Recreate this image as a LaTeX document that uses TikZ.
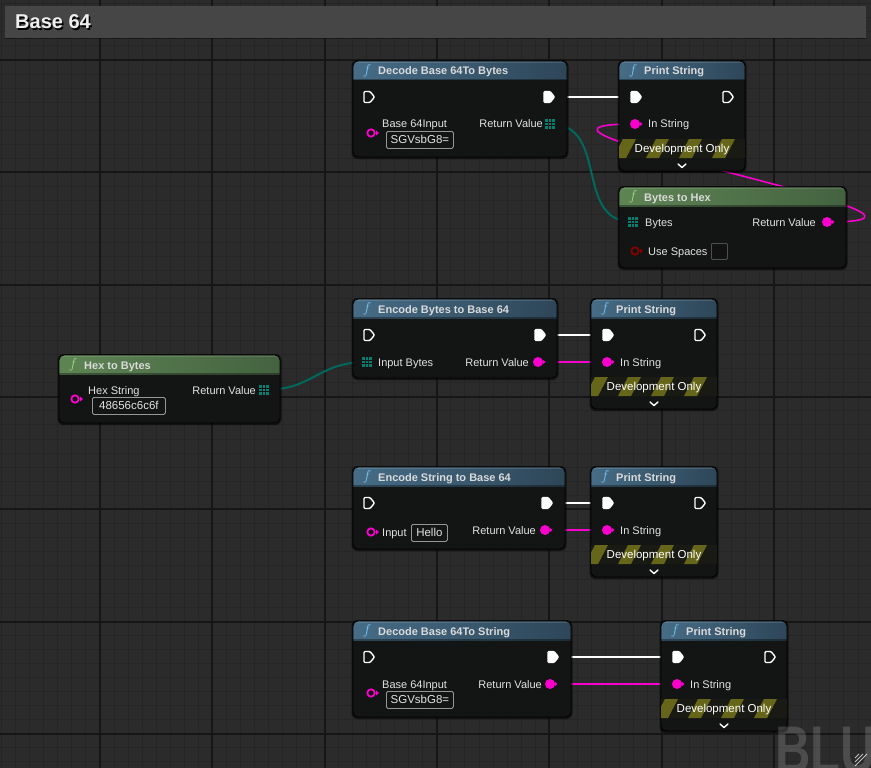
\documentclass[tikz,border=0pt]{standalone}
\usepackage{fontspec}
\setmainfont{Liberation Sans}
\usetikzlibrary{positioning}
\pgfdeclarelayer{grid}
\pgfdeclarelayer{wires}
\pgfsetlayers{grid,wires,main}

\definecolor{canvas}{RGB}{43,43,43}
\definecolor{minorline}{RGB}{37,37,37}
\definecolor{majorline}{RGB}{22,22,22}
\definecolor{titlebar}{RGB}{70,70,70}
\definecolor{bodycol}{RGB}{19,21,20}
\definecolor{headtext}{RGB}{218,218,218}
\definecolor{labeltext}{RGB}{226,226,226}
\definecolor{boxedge}{RGB}{150,150,150}
\definecolor{strpink}{RGB}{250,0,205}
\definecolor{byteteal}{RGB}{0,128,112}
\definecolor{wireteal}{RGB}{0,105,92}
\definecolor{boolred}{RGB}{135,0,0}
\definecolor{olive}{RGB}{102,102,26}
\definecolor{olivedark}{RGB}{26,26,20}

\tikzset{
  minorgrid/.style={draw=minorline,line width=1pt},
  majorgrid/.style={draw=majorline,line width=2pt},
  nodeshadow/.style={fill=black,fill opacity=.55,rounded corners=6pt},
  nodebody/.style={fill=bodycol},
  nodeedge/.style={draw=black,line width=.8pt,rounded corners=5pt},
  bluehead/.style={left color={rgb,255:red,70;green,108;blue,134},right color={rgb,255:red,46;green,70;blue,88}},
  greenhead/.style={left color={rgb,255:red,94;green,132;blue,84},right color={rgb,255:red,68;green,98;blue,64}},
  bluef/.style={text={rgb,255:red,120;green,200;blue,245}},
  greenf/.style={text={rgb,255:red,160;green,220;blue,130}},
  fglyph/.style={inner sep=0,font=\fontsize{14}{14}\selectfont},
  bptitle/.style={anchor=west,inner sep=0,text=headtext,text height=8pt,text depth=0pt,font=\bfseries\fontsize{11}{13}\selectfont},
  pinlabel/.style={inner sep=0,text=labeltext,text height=8pt,text depth=0pt,font=\fontsize{11}{13}\selectfont},
  valuebox/.style={anchor=north west,draw=boxedge,line width=.8pt,rounded corners=1.5pt,inner sep=0,minimum height=17pt,
    text=labeltext,text height=8pt,text depth=0pt,font=\fontsize{11.5}{13}\selectfont},
  checkbox/.style={anchor=north west,draw={rgb,255:red,78;green,78;blue,78},fill={rgb,255:red,18;green,18;blue,18},
    line width=.8pt,rounded corners=1pt,minimum size=16pt,inner sep=0},
  devtext/.style={inner sep=0,text=white,text height=8pt,text depth=0pt,font=\fontsize{11.5}{13}\selectfont},
  execpin/.style={draw=white,line width=1.4pt,rounded corners=1pt,line join=round},
  execwire/.style={draw=white,line width=2.6pt},
  pinkwire/.style={draw=strpink,line width=1.6pt},
  tealwire/.style={draw=wireteal,line width=2pt},
  chevron/.style={draw=white,line width=1.4pt,line cap=round,line join=round},
}

% node frame with header
\newcommand\bpnode[7]{%
  \fill[nodeshadow] (#2-1.5,#3-1) rectangle ++(#4+3,#5+3);
  \begin{scope}
    \clip[rounded corners=5pt] (#2,#3) rectangle ++(#4,#5);
    \fill[nodebody] (#2,#3) rectangle ++(#4,#5);
    \shade[#6head] (#2,#3) rectangle ++(#4,19);
    \fill[white,fill opacity=.12] (#2,#3) rectangle ++(#4,2);
    \fill[black,fill opacity=.35] (#2,#3+18) rectangle ++(#4,1.5);
  \end{scope}
  \draw[nodeedge] (#2,#3) rectangle ++(#4,#5);
  \node[fglyph,#6f] (#1-f) at (#2+14,#3+10) {$f$};
  \node[bptitle] (#1) at (#2+25,#3+10) {#7};
}
% pins
\newcommand\execpin[4]{%
  \draw[execpin,fill=#4] (#2-5,#3-5.5) -- (#2+1,#3-5.5) -- (#2+5.5,#3) -- (#2+1,#3+5.5) -- (#2-5,#3+5.5) -- cycle;
  \coordinate (#1) at (#2,#3);
}
\newcommand\strpin[3]{%
  \fill[strpink] (#2,#3) circle[radius=5pt];
  \fill[strpink] (#2+4.5,#3-2.5) -- (#2+7.5,#3) -- (#2+4.5,#3+2.5) -- cycle;
  \coordinate (#1) at (#2,#3);
}
\newcommand\hollowpin[4]{%
  \draw[#4,line width=1.8pt] (#2,#3) circle[radius=3.7pt];
  \fill[#4] (#2+5,#3-2.5) -- (#2+8,#3) -- (#2+5,#3+2.5) -- cycle;
  \coordinate (#1) at (#2,#3);
}
\newcommand\bytepin[3]{%
  \foreach \a in {-1,0,1} \foreach \b in {-1,0,1}
    \fill[byteteal] (#2+\a*3.4-1.3,#3+\b*3.4-1.3) rectangle ++(2.6,2.6);
  \coordinate (#1) at (#2,#3);
}
\newcommand\devonly[4]{%
  \begin{scope}
    \clip (#2,#3) rectangle ++(#4,19);
    \fill[olivedark] (#2,#3) rectangle ++(#4,19);
    \foreach \k in {0,...,4}
      \fill[olive] (#2-6+\k*33,#3+19) -- ++(13,0) -- ++(10,-19) -- ++(-13,0) -- cycle;
  \end{scope}
  \node[devtext] (#1) at (#2+#4/2,#3+9.5) {Development Only};
  \draw[chevron] (#2+#4/2-4,#3+25) -- ++(4,3.5) -- ++(4,-3.5);
}
\newcommand\printstring[3]{%
  \bpnode{#1}{#2}{#3}{126}{110}{blue}{Print String}
  \execpin{#1-in}{#2+17}{#3+36}{white}
  \execpin{#1-out}{#2+109}{#3+36}{none}
  \strpin{#1-str}{#2+16}{#3+63}
  \node[pinlabel,anchor=west] (#1-strlabel) at (#2+29,#3+63) {In String};
  \devonly{#1-dev}{#2}{#3+78}{126}
}

\begin{document}
\begin{tikzpicture}[x=1pt,y=-1pt]
\useasboundingbox (0,0) rectangle (871,768);
\begin{pgfonlayer}{grid}
\fill[canvas] (0,0) rectangle (871,768);
\foreach \i in {-7,...,55} \draw[minorgrid] (100+\i*14.0375,0) -- ++(0,768);
\foreach \i in {-4,...,50} \draw[minorgrid] (0,60+\i*14.0375) -- ++(871,0);
\foreach \i in {-1,...,6} \draw[majorgrid] (100+\i*112.3,0) -- ++(0,768);
\foreach \i in {-1,...,6} \draw[majorgrid] (0,60+\i*112.3) -- ++(871,0);
\end{pgfonlayer}

% comment box title
\fill[titlebar] (5,6) rectangle (866,38);
\draw[black,opacity=.4] (5,38.5) -- (866,38.5);
\node[anchor=west,inner sep=0,text=black,font=\bfseries\fontsize{20}{22}\selectfont] (boardshadow) at (16.5,23.5) {Base 64};
\node[anchor=west,inner sep=0,text={rgb,255:red,238;green,238;blue,238},font=\bfseries\fontsize{20}{22}\selectfont] (boardname) at (15,22) {Base 64};

% decode base64 to bytes
\bpnode{dbytes}{353}{61}{214}{96}{blue}{Decode Base 64To Bytes}
\execpin{dbytes-in}{369}{97}{none}
\execpin{dbytes-out}{549}{97}{white}
\node[pinlabel,anchor=west] (dbytes-inlabel) at (382,124) {Base 64Input};
\hollowpin{dbytes-inpin}{371}{133}{strpink}
\node[valuebox,minimum width=67pt] (dbytes-box) at (386,131) {SGVsbG8=};
\node[pinlabel,anchor=east] (dbytes-retlabel) at (543,124) {Return Value};
\bytepin{dbytes-ret}{550}{124}

\printstring{ps1}{619}{61}

% bytes to hex
\bpnode{bhex}{619}{187}{227}{81}{green}{Bytes to Hex}
\bytepin{bhex-bytes}{633}{222}
\node[pinlabel,anchor=west] (bhex-byteslabel) at (645,222) {Bytes};
\node[pinlabel,anchor=east] (bhex-retlabel) at (816,222) {Return Value};
\strpin{bhex-ret}{827}{222}
\hollowpin{bhex-spaces}{635}{251}{boolred}
\node[pinlabel,anchor=west] (bhex-spaceslabel) at (648,251) {Use Spaces};
\node[checkbox] (bhex-check) at (711,243) {};

% encode bytes
\bpnode{ebytes}{353}{299}{204}{79}{blue}{Encode Bytes to Base 64}
\execpin{ebytes-in}{369}{335}{none}
\execpin{ebytes-out}{540}{335}{white}
\bytepin{ebytes-bytes}{367}{362}
\node[pinlabel,anchor=west] (ebytes-byteslabel) at (378,362) {Input Bytes};
\node[pinlabel,anchor=east] (ebytes-retlabel) at (529,362) {Return Value};
\strpin{ebytes-ret}{538}{362}

\printstring{ps2}{591}{299}

% hex to bytes
\bpnode{hbytes}{59}{355}{221}{68}{green}{Hex to Bytes}
\node[pinlabel,anchor=west] (hbytes-inlabel) at (88,390) {Hex String};
\hollowpin{hbytes-inpin}{75}{399}{strpink}
\node[valuebox,minimum width=73pt] (hbytes-box) at (92,397) {48656c6c6f};
\node[pinlabel,anchor=east] (hbytes-retlabel) at (256,390) {Return Value};
\bytepin{hbytes-ret}{264}{390}

% encode string
\bpnode{estr}{353}{467}{212}{82}{blue}{Encode String to Base 64}
\execpin{estr-in}{369}{503}{none}
\execpin{estr-out}{547}{503}{white}
\hollowpin{estr-inpin}{371}{532}{strpink}
\node[pinlabel,anchor=west] (estr-inlabel) at (382,532) {Input};
\node[valuebox,minimum width=36pt] (estr-box) at (411,524) {Hello};
\node[pinlabel,anchor=east] (estr-retlabel) at (536,530) {Return Value};
\strpin{estr-ret}{545}{530}

\printstring{ps3}{591}{467}

% decode base64 to string
\bpnode{dstr}{353}{621}{218}{96}{blue}{Decode Base 64To String}
\execpin{dstr-in}{369}{657}{none}
\execpin{dstr-out}{553}{657}{white}
\node[pinlabel,anchor=west] (dstr-inlabel) at (382,684) {Base 64Input};
\hollowpin{dstr-inpin}{371}{693}{strpink}
\node[valuebox,minimum width=67pt] (dstr-box) at (386,691) {SGVsbG8=};
\node[pinlabel,anchor=east] (dstr-retlabel) at (542,684) {Return Value};
\strpin{dstr-ret}{550}{684}

\printstring{ps4}{661}{621}

% wires
\begin{pgfonlayer}{wires}
\draw[execwire] (dbytes-out) -- (ps1-in);
\draw[execwire] (ebytes-out) -- (ps2-in);
\draw[execwire] (estr-out) -- (ps3-in);
\draw[execwire] (dstr-out) -- (ps4-in);
\draw[tealwire] (dbytes-ret) .. controls +(60,0) and +(-60,0) .. (bhex-bytes);
\draw[tealwire] (hbytes-ret) .. controls +(50,0) and +(-50,0) .. (ebytes-bytes);
\draw[pinkwire] (bhex-ret) .. controls +(185,0) and +(-185,0) .. (ps1-str);
\draw[pinkwire] (ebytes-ret) -- (ps2-str);
\draw[pinkwire] (estr-ret) -- (ps3-str);
\draw[pinkwire] (dstr-ret) -- (ps4-str);
\end{pgfonlayer}

% watermark and grip
\begin{scope}
\clip (0,0) rectangle (871,768);
\node[anchor=base west,inner sep=0,xscale=.74,text=white,text opacity=.16,font=\bfseries\fontsize{66}{66}\selectfont] (watermark) at (775,772) {BLU};
\end{scope}
\foreach \d in {0,4,8} \draw[white,opacity=.7,line width=1pt] (867-\d,754) -- (855,766-\d);
\end{tikzpicture}
\end{document}
